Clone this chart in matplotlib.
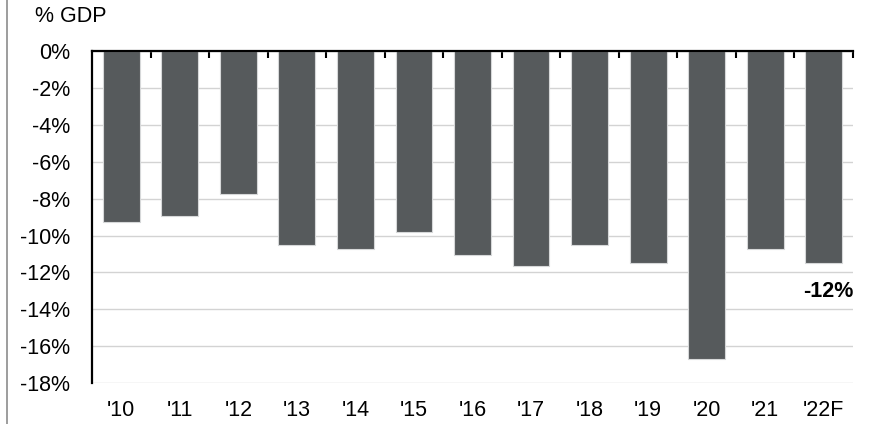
import matplotlib
matplotlib.use("Agg")
import matplotlib.pyplot as plt
from matplotlib.lines import Line2D
from matplotlib.ticker import FixedLocator

plt.rcParams['font.family'] = ['Liberation Sans', 'DejaVu Sans']

# Fiscal balance, % of GDP
years = ["'10", "'11", "'12", "'13", "'14", "'15", "'16", "'17", "'18", "'19", "'20", "'21", "'22F"]
balance = [-9.24, -8.94, -7.73, -10.52, -10.74, -9.82, -11.06, -11.66, -10.49, -11.50, -16.72, -10.74, -11.51]
y_ticks = [0, -2, -4, -6, -8, -10, -12, -14, -16, -18]

bar_color = '#565a5c'
grid_color = '#d3d3d3'
fs = 15.5

fig = plt.figure(figsize=(8.69, 4.24), dpi=100)
ax = fig.add_axes([92 / 869, 1 - 383 / 424, (853 - 92) / 869, (383 - 51.3) / 424])

x = list(range(len(years)))
ax.bar(x, balance, width=0.63, color=bar_color, edgecolor='#d6d8d9', linewidth=0.8, zorder=2)

ax.set_xlim(-0.5, len(years) - 0.5)
ax.set_ylim(-18, 0)
ax.set_yticks(y_ticks)
ax.set_yticklabels([f"{t}%" for t in y_ticks], fontsize=fs)
ax.tick_params(axis='y', length=0, pad=16)

ax.set_xticks(x)
ax.set_xticklabels(years, fontsize=fs)
ax.tick_params(axis='x', which='major', length=0, pad=12, bottom=True, top=False)
ax.xaxis.set_minor_locator(FixedLocator([i + 0.5 for i in range(len(years))]))
ax.tick_params(axis='x', which='minor', bottom=False, top=True, direction='in',
               length=5, width=1.5, color='black')

ax.yaxis.grid(True, color=grid_color, linewidth=1)
ax.set_axisbelow(True)

for side in ['right', 'bottom']:
    ax.spines[side].set_visible(False)
ax.spines['left'].set_linewidth(1.6)
ax.spines['top'].set_linewidth(1.6)
ax.spines['top'].set_zorder(3)

# Annotate the forecast year
last = balance[-1]
ax.annotate(f"{last:.0f}%", xy=(x[-1], last), xytext=(3, -20), textcoords='offset points',
            ha='center', va='center', fontsize=fs, fontweight='bold')

fig.text(35 / 869, 1 - 16 / 424, "% GDP", fontsize=fs, ha='left', va='center')
fig.add_artist(Line2D([7.5 / 869, 7.5 / 869], [0, 1], color='#8c8c8c', linewidth=1.2,
                      transform=fig.transFigure))

fig.savefig('out.png', dpi=100)
